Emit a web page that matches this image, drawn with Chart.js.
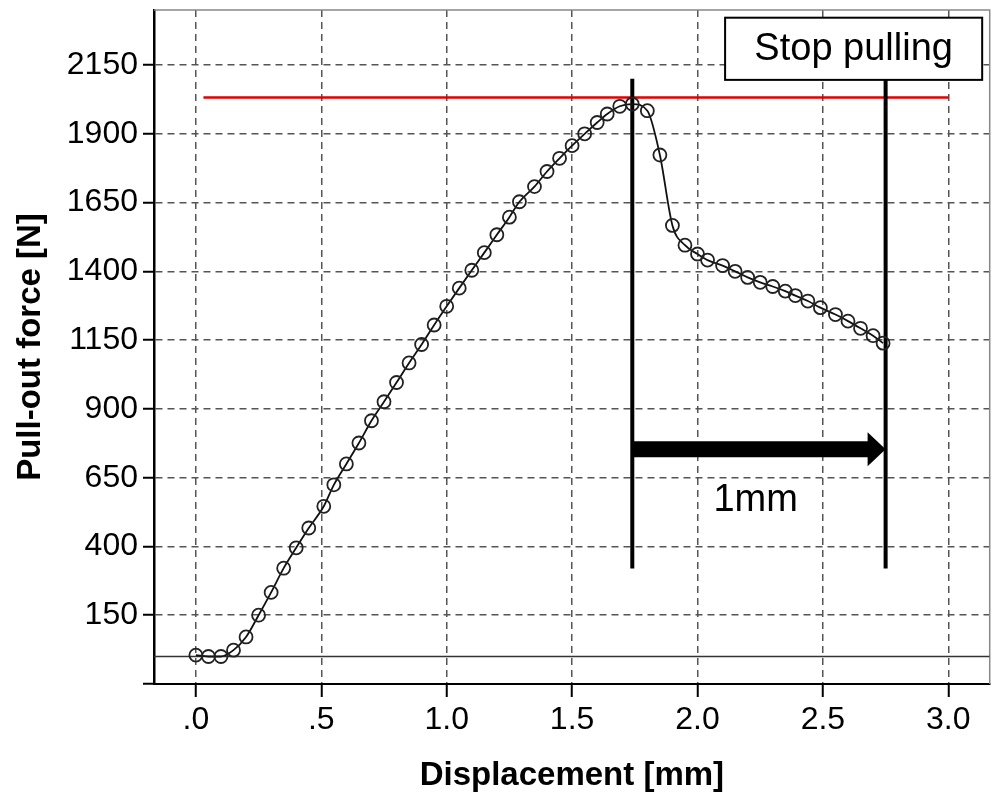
<!DOCTYPE html>
<html>
<head>
<meta charset="utf-8">
<script src="https://cdn.jsdelivr.net/npm/chart.js@4.4.0/dist/chart.umd.min.js"></script>
<style>
  html, body { margin: 0; padding: 0; background: #fff; }
  #wrap { width: 998px; height: 793px; }
</style>
</head>
<body>
<div id="wrap"><canvas id="chart" width="998" height="793"></canvas></div>
<script>
// values
const displacement = [0, 0.05, 0.10, 0.15, 0.20, 0.25, 0.30, 0.35, 0.40, 0.45,
  0.51, 0.55, 0.60, 0.65, 0.70, 0.75, 0.80, 0.85, 0.90, 0.95,
  1.00, 1.05, 1.10, 1.15, 1.20, 1.25, 1.29, 1.35, 1.40, 1.45,
  1.50, 1.55, 1.60, 1.64, 1.69, 1.74, 1.80, 1.85, 1.90, 1.95,
  2.00, 2.04, 2.10, 2.15, 2.20, 2.25, 2.30, 2.35, 2.39, 2.44,
  2.49, 2.55, 2.60, 2.65, 2.70, 2.74];
const force = [5, 0, 0, 23, 71, 150, 233, 321, 395, 467,
  546, 624, 700, 776, 857, 926, 996, 1067, 1134, 1205,
  1273, 1339, 1404, 1468, 1533, 1597, 1653, 1708, 1763, 1811,
  1857, 1900, 1941, 1972, 2000, 2008, 1984, 1823, 1567, 1495,
  1463, 1441, 1421, 1400, 1378, 1360, 1345, 1328, 1312, 1292,
  1268, 1243, 1219, 1193, 1166, 1139];

const maxForce = 2032;
const maxLineX = [0.03, 3.0];
const markerX = [1.74, 2.75];
const markerY = [320, 2100];
const arrowY = 753;

const xTicks = [0, 0.5, 1.0, 1.5, 2.0, 2.5, 3.0];
const xTickLabels = ['.0', '.5', '1.0', '1.5', '2.0', '2.5', '3.0'];
const yTicks = [-100, 150, 400, 650, 900, 1150, 1400, 1650, 1900, 2150];
const xRange = [-0.167, 3.165];
const yRange = [-100, 2350];

const FONT = 'Liberation Sans, Arial, Helvetica, sans-serif';

const annotations = {
  id: 'annotations',
  beforeDatasetsDraw(chart) {
    const { ctx, chartArea: a } = chart;
    ctx.save();
    ctx.strokeStyle = '#888';
    ctx.lineWidth = 1.5;
    ctx.beginPath();
    ctx.moveTo(a.left, a.top);
    ctx.lineTo(a.right, a.top);
    ctx.lineTo(a.right, a.bottom);
    ctx.stroke();
    ctx.restore();
  },
  afterDatasetsDraw(chart) {
    const { ctx } = chart;
    const x = chart.scales.x, y = chart.scales.y;
    ctx.save();

    // arrow between the two markers
    const x0 = x.getPixelForValue(markerX[0]);
    const x1 = x.getPixelForValue(markerX[1]);
    const ay = y.getPixelForValue(arrowY);
    const shaft = 8, head = 18, headW = 17;
    ctx.fillStyle = '#000';
    ctx.beginPath();
    ctx.moveTo(x0, ay - shaft);
    ctx.lineTo(x1 - head, ay - shaft);
    ctx.lineTo(x1 - head, ay - headW);
    ctx.lineTo(x1, ay);
    ctx.lineTo(x1 - head, ay + headW);
    ctx.lineTo(x1 - head, ay + shaft);
    ctx.lineTo(x0, ay + shaft);
    ctx.closePath();
    ctx.fill();

    // 1mm label
    ctx.font = '38px ' + FONT;
    ctx.textAlign = 'center';
    ctx.textBaseline = 'alphabetic';
    ctx.fillText('1mm', x.getPixelForValue(2.232), y.getPixelForValue(530));

    // Stop pulling box
    const bx0 = x.getPixelForValue(2.11), bx1 = x.getPixelForValue(3.135);
    const by0 = y.getPixelForValue(2322), by1 = y.getPixelForValue(2096);
    ctx.fillStyle = '#fff';
    ctx.fillRect(bx0, by0, bx1 - bx0, by1 - by0);
    ctx.strokeStyle = '#000';
    ctx.lineWidth = 2;
    ctx.strokeRect(bx0, by0, bx1 - bx0, by1 - by0);
    ctx.fillStyle = '#000';
    ctx.textBaseline = 'middle';
    ctx.fillText('Stop pulling', (bx0 + bx1) / 2, (by0 + by1) / 2 + 1);
    ctx.restore();
  }
};

new Chart(document.getElementById('chart'), {
  type: 'line',
  data: {
    datasets: [
      {
        data: displacement.map((d, i) => ({ x: d, y: force[i] })),
        borderColor: '#111',
        borderWidth: 1.8,
        pointRadius: 6.5,
        pointBorderWidth: 1.8,
        pointBorderColor: '#222',
        pointBackgroundColor: 'rgba(0,0,0,0)',
        cubicInterpolationMode: 'monotone'
      },
      {
        data: [{ x: markerX[0], y: markerY[0] }, { x: markerX[0], y: markerY[1] }],
        borderColor: '#000', borderWidth: 4, pointRadius: 0
      },
      {
        data: [{ x: markerX[1], y: markerY[0] }, { x: markerX[1], y: markerY[1] }],
        borderColor: '#000', borderWidth: 4, pointRadius: 0
      },
      {
        data: [{ x: maxLineX[0], y: maxForce }, { x: maxLineX[1], y: maxForce }],
        borderColor: '#e00000', borderWidth: 2.5, pointRadius: 0
      },
      {
        data: [{ x: xRange[0], y: 0 }, { x: xRange[1], y: 0 }],
        borderColor: '#333', borderWidth: 1.5, pointRadius: 0
      }
    ]
  },
  options: {
    responsive: false,
    animation: false,
    layout: { padding: { top: 10, right: 5, left: 0, bottom: 0 } },
    plugins: { legend: { display: false }, tooltip: { enabled: false } },
    scales: {
      x: {
        type: 'linear',
        min: xRange[0],
        max: xRange[1],
        afterBuildTicks: s => { s.ticks = xTicks.map(v => ({ value: v })); },
        afterFit: s => { s.height = 109; s.paddingLeft = 0; s.paddingRight = 0; },
        ticks: {
          color: '#000',
          font: { family: FONT, size: 32 },
          padding: 4,
          maxRotation: 0,
          autoSkip: false,
          callback: (v, i) => xTickLabels[i]
        },
        grid: {
          color: '#555',
          lineWidth: 1.5,
          tickLength: 13,
          tickColor: '#000',
          tickWidth: 2,
          tickBorderDash: []
        },
        border: { display: true, color: '#000', width: 2, dash: [7, 5] },
        title: {
          display: true,
          text: 'Displacement [mm]',
          color: '#000',
          font: { family: FONT, size: 33, weight: 'bold', lineHeight: 1 },
          padding: { top: 0, bottom: 1 }
        }
      },
      y: {
        min: yRange[0],
        max: yRange[1],
        afterBuildTicks: s => { s.ticks = yTicks.map(v => ({ value: v })); },
        afterFit: s => { s.width = 154; s.paddingTop = 0; s.paddingBottom = 0; },
        ticks: {
          color: '#000',
          font: { family: FONT, size: 32 },
          padding: 5,
          autoSkip: false,
          callback: v => (v === -100 ? '' : v)
        },
        grid: {
          color: c => (c.tick && c.tick.value === -100 ? 'rgba(0,0,0,0)' : '#555'),
          lineWidth: 1.5,
          tickLength: 11,
          tickColor: '#000',
          tickWidth: 2,
          tickBorderDash: []
        },
        border: { display: true, color: '#000', width: 2.5, dash: [7, 5] },
        title: {
          display: true,
          text: 'Pull-out force [N]',
          color: '#000',
          font: { family: FONT, size: 33, weight: 'bold', lineHeight: 1 },
          padding: { top: 14, bottom: 0 }
        }
      }
    }
  },
  plugins: [annotations]
});
</script>
</body>
</html>
